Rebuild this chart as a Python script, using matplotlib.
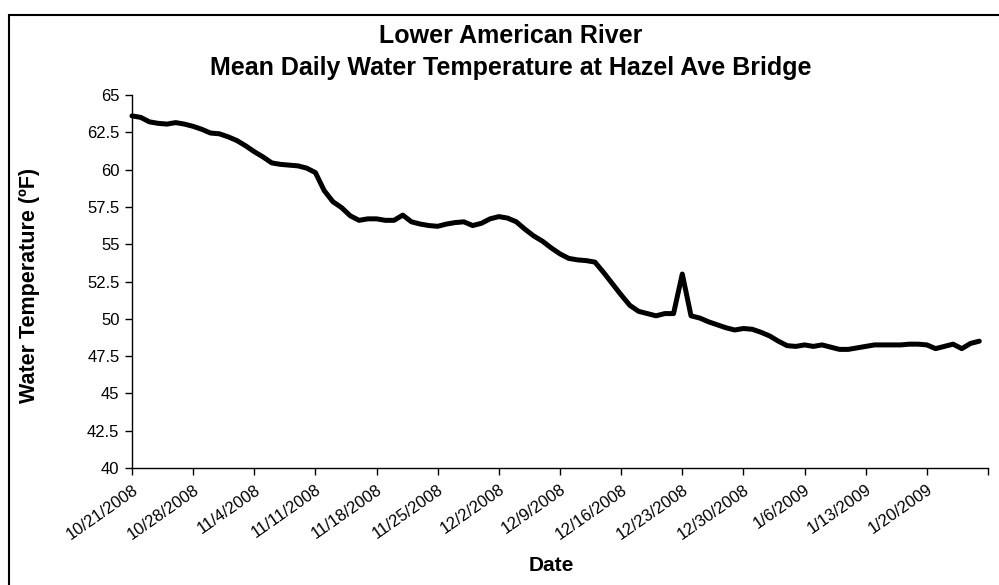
import matplotlib
matplotlib.use('Agg')
import matplotlib.pyplot as plt
import pandas as pd

plt.rcParams['font.family'] = ['Liberation Sans', 'DejaVu Sans']

# mean daily water temperature (F), one value per day starting 10/21/2008
temps = [
    63.6, 63.5, 63.2, 63.1, 63.05, 63.15, 63.05, 62.9, 62.7, 62.45,
    62.4, 62.2, 61.95, 61.6, 61.2, 60.85, 60.45, 60.35, 60.3, 60.25,
    60.1, 59.8, 58.6, 57.85, 57.45, 56.9, 56.6, 56.7, 56.7, 56.6,
    56.6, 56.95, 56.5, 56.35, 56.25, 56.2, 56.35, 56.45, 56.5, 56.25,
    56.4, 56.7, 56.85, 56.75, 56.5, 56.0, 55.55, 55.2, 54.75, 54.35,
    54.05, 53.95, 53.9, 53.8, 53.1, 52.35, 51.6, 50.9, 50.5, 50.35,
    50.2, 50.35, 50.35, 53.0, 50.2, 50.05, 49.8, 49.6, 49.4, 49.25,
    49.35, 49.3, 49.1, 48.85, 48.5, 48.2, 48.15, 48.25, 48.15, 48.25,
    48.1, 47.95, 47.95, 48.05, 48.15, 48.25, 48.25, 48.25, 48.25, 48.3,
    48.3, 48.25, 48.0, 48.15, 48.3, 48.0, 48.35, 48.5,
]
start_date = '2008-10-21'
end_date = '2009-01-27'
y_ticks = [40, 42.5, 45, 47.5, 50, 52.5, 55, 57.5, 60, 62.5, 65]

dates = pd.date_range(start_date, periods=len(temps), freq='D')
week_ticks = pd.date_range(start_date, end_date, freq='7D')
week_labels = [f"{d.month}/{d.day}/{d.year}" for d in week_ticks[:-1]] + ['']

fig = plt.figure(figsize=(9.99, 5.85), dpi=100)
ax = fig.add_axes([0.1321, 0.2, 0.8569, 0.6376])

ax.plot(dates, temps, color='black', lw=3.6, solid_joinstyle='round',
        solid_capstyle='round', clip_on=False)

ax.set_xlim(pd.Timestamp(start_date), pd.Timestamp(end_date))
ax.set_ylim(40, 65)
ax.set_yticks(y_ticks)
ax.set_yticklabels([f"{v:g}" for v in y_ticks], fontsize=12)
ax.set_xticks(week_ticks)
ax.set_xticklabels(week_labels, rotation=35, ha='right', rotation_mode='anchor',
                   fontsize=12)
ax.tick_params(axis='both', direction='out', length=5, width=1, color='black')
ax.tick_params(axis='x', pad=5)
ax.tick_params(axis='y', pad=4)

for side in ['top', 'right']:
    ax.spines[side].set_visible(False)
for side in ['left', 'bottom']:
    ax.spines[side].set_linewidth(1)
    ax.spines[side].set_color('black')

ax.set_xlabel('Date', fontsize=15, fontweight='bold')
ax.xaxis.set_label_coords(0.49, -0.235)
ax.set_ylabel('Water Temperature (ºF)', fontsize=15.5, fontweight='bold')
ax.yaxis.set_label_coords(-0.107, 0.49)

fig.text(0.511, 0.938, 'Lower American River', ha='center', va='center',
         fontsize=18, fontweight='bold')
fig.text(0.511, 0.883, 'Mean Daily Water Temperature at Hazel Ave Bridge',
         ha='center', va='center', fontsize=18, fontweight='bold')

# chart frame
fig.add_artist(plt.Rectangle((0.009, -0.01), 1.0, 0.984, transform=fig.transFigure,
                             fill=False, edgecolor='black', lw=1.5))

fig.savefig('out.png', dpi=100)
